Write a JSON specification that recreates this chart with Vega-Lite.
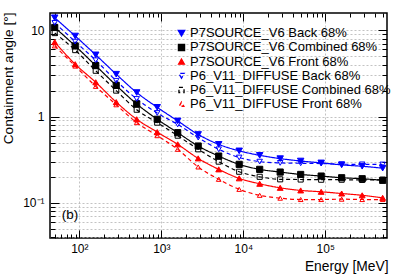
{
  "$schema": "https://vega.github.io/schema/vega-lite/v6.json",
  "width": 337,
  "height": 225,
  "autosize": {"type": "none"},
  "padding": {"left": 50, "top": 13, "right": 12, "bottom": 36},
  "background": "white",
  "config": {
    "view": {"stroke": "#000", "strokeWidth": 1.5},
    "font": "Liberation Sans",
    "axis": {"labelFont": "Liberation Sans", "labelFontSize": 12, "labelColor": "#000", "tickColor": "#000", "tickWidth": 1, "gridColor": "#b4b4b4", "gridDash": [2, 2], "gridWidth": 0.8, "domain": false, "labelFlush": false, "labelOverlap": false, "labelBound": false, "titleFont": "Liberation Sans", "titleFontWeight": "normal", "titleColor": "#000"}
  },
  "datasets": {
    "psf": [
      {"series": "P7SOURCE_V6 Back 68%", "E": 50.1, "angle": 14},
      {"series": "P7SOURCE_V6 Back 68%", "E": 89.1, "angle": 8.6},
      {"series": "P7SOURCE_V6 Back 68%", "E": 158.5, "angle": 5.2},
      {"series": "P7SOURCE_V6 Back 68%", "E": 281.8, "angle": 3.1},
      {"series": "P7SOURCE_V6 Back 68%", "E": 501.2, "angle": 1.9},
      {"series": "P7SOURCE_V6 Back 68%", "E": 891.3, "angle": 1.28},
      {"series": "P7SOURCE_V6 Back 68%", "E": 1585, "angle": 0.89},
      {"series": "P7SOURCE_V6 Back 68%", "E": 2818, "angle": 0.62},
      {"series": "P7SOURCE_V6 Back 68%", "E": 5012, "angle": 0.476},
      {"series": "P7SOURCE_V6 Back 68%", "E": 8913, "angle": 0.4},
      {"series": "P7SOURCE_V6 Back 68%", "E": 15849, "angle": 0.355},
      {"series": "P7SOURCE_V6 Back 68%", "E": 28184, "angle": 0.325},
      {"series": "P7SOURCE_V6 Back 68%", "E": 50119, "angle": 0.305},
      {"series": "P7SOURCE_V6 Back 68%", "E": 89125, "angle": 0.29},
      {"series": "P7SOURCE_V6 Back 68%", "E": 158489, "angle": 0.275},
      {"series": "P7SOURCE_V6 Back 68%", "E": 281838, "angle": 0.265},
      {"series": "P7SOURCE_V6 Back 68%", "E": 501187, "angle": 0.252},
      {"series": "P7SOURCE_V6 Combined 68%", "E": 50.1, "angle": 10.8},
      {"series": "P7SOURCE_V6 Combined 68%", "E": 89.1, "angle": 6.6},
      {"series": "P7SOURCE_V6 Combined 68%", "E": 158.5, "angle": 3.9},
      {"series": "P7SOURCE_V6 Combined 68%", "E": 281.8, "angle": 2.3},
      {"series": "P7SOURCE_V6 Combined 68%", "E": 501.2, "angle": 1.4},
      {"series": "P7SOURCE_V6 Combined 68%", "E": 891.3, "angle": 0.93},
      {"series": "P7SOURCE_V6 Combined 68%", "E": 1585, "angle": 0.65},
      {"series": "P7SOURCE_V6 Combined 68%", "E": 2818, "angle": 0.455},
      {"series": "P7SOURCE_V6 Combined 68%", "E": 5012, "angle": 0.348},
      {"series": "P7SOURCE_V6 Combined 68%", "E": 8913, "angle": 0.279},
      {"series": "P7SOURCE_V6 Combined 68%", "E": 15849, "angle": 0.244},
      {"series": "P7SOURCE_V6 Combined 68%", "E": 28184, "angle": 0.227},
      {"series": "P7SOURCE_V6 Combined 68%", "E": 50119, "angle": 0.213},
      {"series": "P7SOURCE_V6 Combined 68%", "E": 89125, "angle": 0.204},
      {"series": "P7SOURCE_V6 Combined 68%", "E": 158489, "angle": 0.195},
      {"series": "P7SOURCE_V6 Combined 68%", "E": 281838, "angle": 0.19},
      {"series": "P7SOURCE_V6 Combined 68%", "E": 501187, "angle": 0.182},
      {"series": "P7SOURCE_V6 Front 68%", "E": 50.1, "angle": 7.3},
      {"series": "P7SOURCE_V6 Front 68%", "E": 89.1, "angle": 4.05},
      {"series": "P7SOURCE_V6 Front 68%", "E": 158.5, "angle": 2.5},
      {"series": "P7SOURCE_V6 Front 68%", "E": 281.8, "angle": 1.47},
      {"series": "P7SOURCE_V6 Front 68%", "E": 501.2, "angle": 0.93},
      {"series": "P7SOURCE_V6 Front 68%", "E": 891.3, "angle": 0.66},
      {"series": "P7SOURCE_V6 Front 68%", "E": 1585, "angle": 0.476},
      {"series": "P7SOURCE_V6 Front 68%", "E": 2818, "angle": 0.327},
      {"series": "P7SOURCE_V6 Front 68%", "E": 5012, "angle": 0.244},
      {"series": "P7SOURCE_V6 Front 68%", "E": 8913, "angle": 0.192},
      {"series": "P7SOURCE_V6 Front 68%", "E": 15849, "angle": 0.166},
      {"series": "P7SOURCE_V6 Front 68%", "E": 28184, "angle": 0.149},
      {"series": "P7SOURCE_V6 Front 68%", "E": 50119, "angle": 0.139},
      {"series": "P7SOURCE_V6 Front 68%", "E": 89125, "angle": 0.134},
      {"series": "P7SOURCE_V6 Front 68%", "E": 158489, "angle": 0.128},
      {"series": "P7SOURCE_V6 Front 68%", "E": 281838, "angle": 0.122},
      {"series": "P7SOURCE_V6 Front 68%", "E": 501187, "angle": 0.114},
      {"series": "P6_V11_DIFFUSE Back 68%", "E": 50.1, "angle": 12.2},
      {"series": "P6_V11_DIFFUSE Back 68%", "E": 89.1, "angle": 7.4},
      {"series": "P6_V11_DIFFUSE Back 68%", "E": 158.5, "angle": 4.5},
      {"series": "P6_V11_DIFFUSE Back 68%", "E": 281.8, "angle": 2.6},
      {"series": "P6_V11_DIFFUSE Back 68%", "E": 501.2, "angle": 1.6},
      {"series": "P6_V11_DIFFUSE Back 68%", "E": 891.3, "angle": 1.1},
      {"series": "P6_V11_DIFFUSE Back 68%", "E": 1585, "angle": 0.81},
      {"series": "P6_V11_DIFFUSE Back 68%", "E": 2818, "angle": 0.57},
      {"series": "P6_V11_DIFFUSE Back 68%", "E": 5012, "angle": 0.417},
      {"series": "P6_V11_DIFFUSE Back 68%", "E": 8913, "angle": 0.335},
      {"series": "P6_V11_DIFFUSE Back 68%", "E": 15849, "angle": 0.3},
      {"series": "P6_V11_DIFFUSE Back 68%", "E": 28184, "angle": 0.29},
      {"series": "P6_V11_DIFFUSE Back 68%", "E": 50119, "angle": 0.287},
      {"series": "P6_V11_DIFFUSE Back 68%", "E": 89125, "angle": 0.285},
      {"series": "P6_V11_DIFFUSE Back 68%", "E": 158489, "angle": 0.28},
      {"series": "P6_V11_DIFFUSE Back 68%", "E": 281838, "angle": 0.279},
      {"series": "P6_V11_DIFFUSE Back 68%", "E": 501187, "angle": 0.278},
      {"series": "P6_V11_DIFFUSE Combined 68%", "E": 50.1, "angle": 9.3},
      {"series": "P6_V11_DIFFUSE Combined 68%", "E": 89.1, "angle": 5.9},
      {"series": "P6_V11_DIFFUSE Combined 68%", "E": 158.5, "angle": 3.4},
      {"series": "P6_V11_DIFFUSE Combined 68%", "E": 281.8, "angle": 2.0},
      {"series": "P6_V11_DIFFUSE Combined 68%", "E": 501.2, "angle": 1.2},
      {"series": "P6_V11_DIFFUSE Combined 68%", "E": 891.3, "angle": 0.85},
      {"series": "P6_V11_DIFFUSE Combined 68%", "E": 1585, "angle": 0.6},
      {"series": "P6_V11_DIFFUSE Combined 68%", "E": 2818, "angle": 0.417},
      {"series": "P6_V11_DIFFUSE Combined 68%", "E": 5012, "angle": 0.3},
      {"series": "P6_V11_DIFFUSE Combined 68%", "E": 8913, "angle": 0.229},
      {"series": "P6_V11_DIFFUSE Combined 68%", "E": 15849, "angle": 0.2},
      {"series": "P6_V11_DIFFUSE Combined 68%", "E": 28184, "angle": 0.187},
      {"series": "P6_V11_DIFFUSE Combined 68%", "E": 50119, "angle": 0.186},
      {"series": "P6_V11_DIFFUSE Combined 68%", "E": 89125, "angle": 0.185},
      {"series": "P6_V11_DIFFUSE Combined 68%", "E": 158489, "angle": 0.185},
      {"series": "P6_V11_DIFFUSE Combined 68%", "E": 281838, "angle": 0.184},
      {"series": "P6_V11_DIFFUSE Combined 68%", "E": 501187, "angle": 0.185},
      {"series": "P6_V11_DIFFUSE Front 68%", "E": 50.1, "angle": 6.6},
      {"series": "P6_V11_DIFFUSE Front 68%", "E": 89.1, "angle": 3.85},
      {"series": "P6_V11_DIFFUSE Front 68%", "E": 158.5, "angle": 2.24},
      {"series": "P6_V11_DIFFUSE Front 68%", "E": 281.8, "angle": 1.37},
      {"series": "P6_V11_DIFFUSE Front 68%", "E": 501.2, "angle": 0.85},
      {"series": "P6_V11_DIFFUSE Front 68%", "E": 891.3, "angle": 0.6},
      {"series": "P6_V11_DIFFUSE Front 68%", "E": 1585, "angle": 0.417},
      {"series": "P6_V11_DIFFUSE Front 68%", "E": 2818, "angle": 0.26},
      {"series": "P6_V11_DIFFUSE Front 68%", "E": 5012, "angle": 0.187},
      {"series": "P6_V11_DIFFUSE Front 68%", "E": 8913, "angle": 0.143},
      {"series": "P6_V11_DIFFUSE Front 68%", "E": 15849, "angle": 0.122},
      {"series": "P6_V11_DIFFUSE Front 68%", "E": 28184, "angle": 0.113},
      {"series": "P6_V11_DIFFUSE Front 68%", "E": 50119, "angle": 0.109},
      {"series": "P6_V11_DIFFUSE Front 68%", "E": 89125, "angle": 0.109},
      {"series": "P6_V11_DIFFUSE Front 68%", "E": 158489, "angle": 0.11},
      {"series": "P6_V11_DIFFUSE Front 68%", "E": 281838, "angle": 0.109},
      {"series": "P6_V11_DIFFUSE Front 68%", "E": 501187, "angle": 0.109}
    ],
    "note": [{"E": 77, "angle": 0.073, "label": "(b)"}]
  },
  "layer": [
    {
      "data": {"name": "psf"},
      "mark": {"type": "line", "strokeWidth": 1.2, "interpolate": "monotone", "clip": true},
      "encoding": {
        "x": {"field": "E", "type": "quantitative",
          "scale": {"type": "log", "domain": [43.9, 566000], "nice": false},
          "axis": {"orient": "bottom",
            "values": [50,60,70,80,90,100,200,300,400,500,600,700,800,900,1000,2000,3000,4000,5000,6000,7000,8000,9000,10000,20000,30000,40000,50000,60000,70000,80000,90000,100000,200000,300000,400000,500000],
            "labelExpr": "datum.value == 100 ? '10²' : datum.value == 1000 ? '10³' : datum.value == 10000 ? '10⁴' : datum.value == 100000 ? '10⁵' : ''",
            "labelPadding": 13.5,
            "tickSize": {"condition": {"test": "abs(log(datum.value)/LN10 - round(log(datum.value)/LN10)) < 0.01", "value": -8}, "value": -4},
            "grid": true,
            "gridOpacity": {"condition": {"test": "abs(log(datum.value)/LN10 - round(log(datum.value)/LN10)) < 0.01", "value": 1}, "value": 0},
            "title": "Energy [MeV]", "titleAnchor": "end", "titleAlign": "right", "titleBaseline": "alphabetic", "titleX": 338, "titleY": 32, "titleFontSize": 13.8}
        },
        "y": {"field": "angle", "type": "quantitative",
          "scale": {"type": "log", "domain": [0.039, 15.9], "nice": false},
          "axis": {"orient": "left",
            "values": [0.04,0.05,0.06,0.07,0.08,0.09,0.1,0.2,0.3,0.4,0.5,0.6,0.7,0.8,0.9,1,2,3,4,5,6,7,8,9,10],
            "labelExpr": "datum.value == 10 ? '10' : datum.value == 1 ? '1' : datum.value == 0.1 ? '10⁻¹' : ''",
            "labelPadding": 15,
            "tickSize": {"condition": {"test": "abs(log(datum.value)/LN10 - round(log(datum.value)/LN10)) < 0.01", "value": -9}, "value": -5},
            "grid": true,
            "title": "Containment angle [°]", "titleAngle": -90, "titleAnchor": "end", "titleAlign": "right", "titleBaseline": "middle", "titleX": -42, "titleY": -1, "titleFontSize": 13.7}
        },
        "stroke": {"field": "series", "type": "nominal",
          "scale": {"domain": ["P7SOURCE_V6 Back 68%","P7SOURCE_V6 Combined 68%","P7SOURCE_V6 Front 68%","P6_V11_DIFFUSE Back 68%","P6_V11_DIFFUSE Combined 68%","P6_V11_DIFFUSE Front 68%"],
            "range": ["#0000ff","#000000","#ff0000","#0000ff","#000000","#ff0000"]},
          "legend": {"title": null, "orient": "none", "legendX": 125, "legendY": 13.7, "padding": 0,
            "symbolSize": 225, "symbolStrokeWidth": 1.3, "labelFontSize": 13, "labelFont": "Liberation Sans", "labelColor": "#000",
            "labelOffset": 2, "rowPadding": 0.2, "labelLimit": 400}},
        "strokeDash": {"field": "series", "type": "nominal",
          "scale": {"domain": ["P7SOURCE_V6 Back 68%","P7SOURCE_V6 Combined 68%","P7SOURCE_V6 Front 68%","P6_V11_DIFFUSE Back 68%","P6_V11_DIFFUSE Combined 68%","P6_V11_DIFFUSE Front 68%"],
            "range": [[1,0],[1,0],[1,0],[4,3],[4,3],[4,3]]},
          "legend": {"title": null, "orient": "none", "legendX": 125, "legendY": 13.7, "padding": 0,
            "symbolSize": 225, "symbolStrokeWidth": 1.3, "labelFontSize": 13, "labelFont": "Liberation Sans", "labelColor": "#000",
            "labelOffset": 2, "rowPadding": 0.2, "labelLimit": 400}}
      }
    },
    {
      "data": {"name": "psf"},
      "mark": {"type": "point", "filled": false, "strokeWidth": 1, "opacity": 1, "clip": true},
      "encoding": {
        "x": {"field": "E", "type": "quantitative",
          "axis": {"orient": "top", "values": [50,60,70,80,90,100,200,300,400,500,600,700,800,900,1000,2000,3000,4000,5000,6000,7000,8000,9000,10000,20000,30000,40000,50000,60000,70000,80000,90000,100000,200000,300000,400000,500000],
            "labels": false, "grid": false, "title": null,
            "tickSize": {"condition": {"test": "abs(log(datum.value)/LN10 - round(log(datum.value)/LN10)) < 0.01", "value": -8}, "value": -4}}},
        "y": {"field": "angle", "type": "quantitative",
          "axis": {"orient": "right", "values": [0.04,0.05,0.06,0.07,0.08,0.09,0.1,0.2,0.3,0.4,0.5,0.6,0.7,0.8,0.9,1,2,3,4,5,6,7,8,9,10],
            "labels": false, "grid": false, "title": null,
            "tickSize": {"condition": {"test": "abs(log(datum.value)/LN10 - round(log(datum.value)/LN10)) < 0.01", "value": -9}, "value": -5}}},
        "stroke": {"field": "series", "type": "nominal", "legend": null},
        "fill": {"field": "series", "type": "nominal",
          "scale": {"domain": ["P7SOURCE_V6 Back 68%","P7SOURCE_V6 Combined 68%","P7SOURCE_V6 Front 68%","P6_V11_DIFFUSE Back 68%","P6_V11_DIFFUSE Combined 68%","P6_V11_DIFFUSE Front 68%"],
            "range": ["#0000ff","#000000","#ff0000","transparent","transparent","transparent"]},
          "legend": null},
        "size": {"field": "series", "type": "nominal",
          "scale": {"domain": ["P7SOURCE_V6 Back 68%","P7SOURCE_V6 Combined 68%","P7SOURCE_V6 Front 68%","P6_V11_DIFFUSE Back 68%","P6_V11_DIFFUSE Combined 68%","P6_V11_DIFFUSE Front 68%"],
            "range": [42, 22, 42, 42, 22, 42]},
          "legend": null},
        "shape": {"field": "series", "type": "nominal",
          "scale": {"domain": ["P7SOURCE_V6 Back 68%","P7SOURCE_V6 Combined 68%","P7SOURCE_V6 Front 68%","P6_V11_DIFFUSE Back 68%","P6_V11_DIFFUSE Combined 68%","P6_V11_DIFFUSE Front 68%"],
            "range": ["triangle-down","square","triangle-up","triangle-down","square","triangle-up"]},
          "legend": null}
      }
    },
    {
      "data": {"name": "note"},
      "mark": {"type": "text", "fontSize": 13.5, "font": "Liberation Sans", "color": "#000"},
      "encoding": {
        "x": {"field": "E", "type": "quantitative", "axis": null},
        "y": {"field": "angle", "type": "quantitative", "axis": null},
        "text": {"field": "label"}
      }
    }
  ],
  "resolve": {
    "axis": {"x": "independent", "y": "independent"}
  }
}
